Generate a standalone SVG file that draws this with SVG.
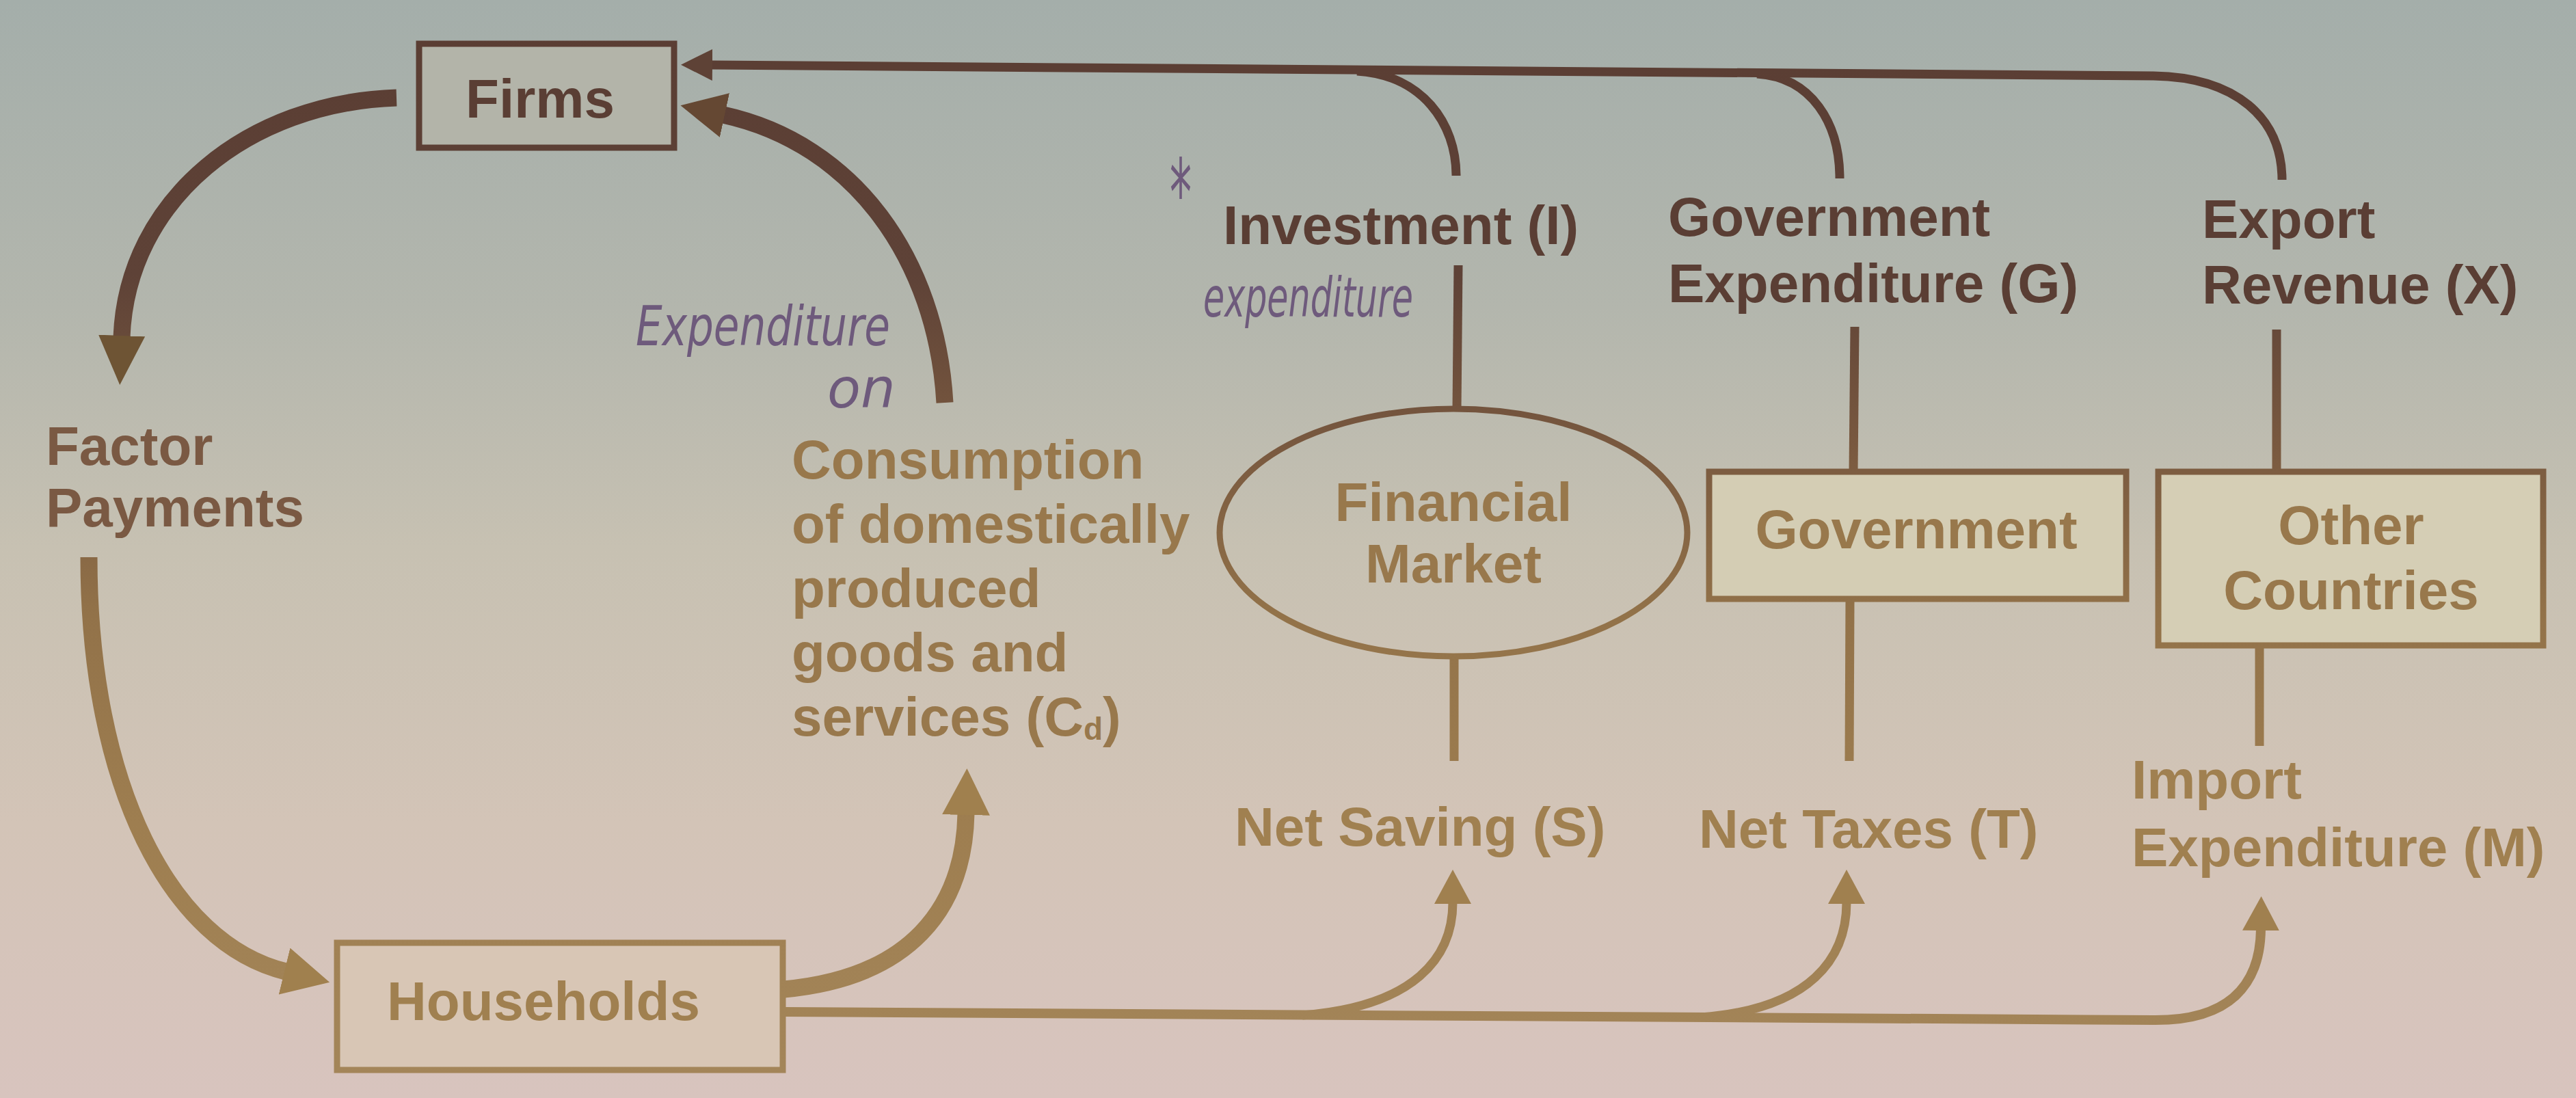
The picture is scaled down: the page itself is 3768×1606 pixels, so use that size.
<svg xmlns="http://www.w3.org/2000/svg" width="3768" height="1606" viewBox="0 0 3768 1606">
<defs>
<linearGradient id="bg" gradientUnits="userSpaceOnUse" x1="0" y1="0" x2="0" y2="1606">
<stop offset="0" stop-color="#a4aeaa"/>
<stop offset="0.28" stop-color="#b3b6ad"/>
<stop offset="0.5" stop-color="#c7c1b2"/>
<stop offset="0.75" stop-color="#d3c4b7"/>
<stop offset="1" stop-color="#d8c4be"/>
</linearGradient>
<linearGradient id="ink" gradientUnits="userSpaceOnUse" x1="0" y1="0" x2="0" y2="1606">
<stop offset="0" stop-color="#5a3d33"/>
<stop offset="0.25" stop-color="#5e4237"/>
<stop offset="0.4" stop-color="#78583f"/>
<stop offset="0.56" stop-color="#927249"/>
<stop offset="0.75" stop-color="#9e7e50"/>
<stop offset="1" stop-color="#a4865a"/>
</linearGradient>
<marker id="ahDarkS" markerUnits="userSpaceOnUse" viewBox="0 0 46 46" markerWidth="46" markerHeight="46" refX="2" refY="23" orient="auto">
<path d="M0,0 L46,23 L0,46 z" fill="#5e4236"/>
</marker>
<marker id="ahDarkB" markerUnits="userSpaceOnUse" viewBox="0 0 66 66" markerWidth="66" markerHeight="66" refX="2" refY="33" orient="auto">
<path d="M0,0 L66,33 L0,66 z" fill="#654833"/>
</marker>
<marker id="ahMidB" markerUnits="userSpaceOnUse" viewBox="0 0 72 68" markerWidth="72" markerHeight="68" refX="2" refY="34" orient="auto">
<path d="M0,0 L72,34 L0,68 z" fill="#6e5434"/>
</marker>
<marker id="ahGoldB" markerUnits="userSpaceOnUse" viewBox="0 0 68 70" markerWidth="68" markerHeight="70" refX="2" refY="35" orient="auto">
<path d="M0,0 L68,35 L0,70 z" fill="#a0804e"/>
</marker>
<marker id="ahGoldS" markerUnits="userSpaceOnUse" viewBox="0 0 50 54" markerWidth="50" markerHeight="54" refX="2" refY="27" orient="auto">
<path d="M0,0 L50,27 L0,54 z" fill="#a0804f"/>
</marker>
</defs>
<style>
text { font-family: "Liberation Sans", Arial, sans-serif; font-weight: bold; font-size: 80px; }
.dark { fill: #5a3e34; }
.mid { fill: #7a5943; }
.gold { fill: #98784c; }
.low { fill: #a08050; }
.hand { font-family: "DejaVu Sans", sans-serif; font-weight: normal; font-style: italic; fill: #6e5a7c; }
.box { stroke: url(#ink); stroke-width: 9; }
.thin { fill: none; stroke: url(#ink); stroke-width: 13; stroke-linecap: butt; }
.thick { fill: none; stroke: url(#ink); stroke-width: 25; stroke-linecap: butt; }
.mc { text-anchor: middle; }
</style>
<rect x="0" y="0" width="3768" height="1606" fill="url(#bg)"/>

<g id="connectors">
<!-- top return line from Other Countries (X) to Firms -->
<path class="thin" d="M3338,263 C3338,172 3270,113 3150,111 L1040,95" marker-end="url(#ahDarkS)"/>
<path class="thin" d="M1985,104 C2080,110 2130,180 2130,257"/>
<path class="thin" d="M2570,108 C2650,113 2691,180 2691,261"/>
<!-- vertical connectors -->
<path class="thin" d="M2133,388 L2131,598"/>
<path class="thin" d="M2127,958 L2127,1113"/>
<path class="thin" d="M2713,478 L2711,690"/>
<path class="thin" d="M2706,876 L2705,1113"/>
<path class="thin" d="M3330,482 L3330,690"/>
<path class="thin" d="M3305,945 L3305,1091"/>
<!-- Firms -> Factor Payments -->
<path class="thick" d="M580,143 C365,150 186,290 178,493" marker-end="url(#ahMidB)"/>
<!-- Factor Payments -> Households -->
<path class="thick" d="M130,815 C130,1150 250,1380 418,1421" marker-end="url(#ahGoldB)"/>
<!-- Households -> Consumption -->
<path class="thick" d="M1147,1447 C1330,1430 1410,1330 1413,1190" marker-end="url(#ahGoldB)"/>
<!-- Consumption -> Firms -->
<path class="thick" d="M1382,589 C1370,380 1250,210 1058,168" marker-end="url(#ahDarkB)"/>
<!-- Households leakages -->
<path class="thin" style="stroke-width:14" d="M1147,1480 L3150,1492 C3262,1493 3306,1440 3307,1359" marker-end="url(#ahGoldS)"/>
<path class="thin" d="M1905,1485 C2070,1472 2125,1400 2125,1320" marker-end="url(#ahGoldS)"/>
<path class="thin" d="M2488,1488 C2650,1476 2701,1400 2701,1320" marker-end="url(#ahGoldS)"/>
</g>

<g id="firms">
<rect class="box" x="613" y="64" width="373" height="152" fill="#b3b4a9"/>
<text class="dark mc" x="790" y="172">Firms</text>
</g>

<g id="households">
<rect class="box" x="493" y="1379" width="652" height="186" fill="#d8c6b5"/>
<text class="low mc" x="795" y="1492">Households</text>
</g>

<g id="financial-market">
<ellipse class="box" cx="2126" cy="779" rx="342" ry="181" fill="none"/>
<text class="gold mc" x="2126" y="762">Financial</text>
<text class="gold mc" x="2126" y="852">Market</text>
</g>

<g id="government">
<rect class="box" x="2500" y="690" width="610" height="186" fill="#d4cdb4"/>
<text class="gold mc" x="2803" y="802">Government</text>
</g>

<g id="other-countries">
<rect class="box" x="3157" y="690" width="563" height="254" fill="#d5ceb5"/>
<text class="gold mc" x="3439" y="796">Other</text>
<text class="gold mc" x="3439" y="891">Countries</text>
</g>

<g id="labels">
<text class="mid" x="67" y="680">Factor</text>
<text class="mid" x="67" y="770">Payments</text>
<text class="gold" x="1158" y="700">Consumption</text>
<text class="gold" x="1158" y="794">of domestically</text>
<text class="gold" x="1158" y="888">produced</text>
<text class="gold" x="1158" y="982">goods and</text>
<text class="gold" x="1158" y="1076">services (C<tspan font-size="46" dy="6">d</tspan><tspan dy="-6">)</tspan></text>
<text class="dark" x="1789" y="357">Investment (I)</text>
<text class="dark" x="2440" y="345">Government</text>
<text class="dark" x="2440" y="442">Expenditure (G)</text>
<text class="dark" x="3221" y="348">Export</text>
<text class="dark" x="3221" y="444">Revenue (X)</text>
<text class="low" x="1806" y="1237">Net Saving (S)</text>
<text class="low" x="2485" y="1240">Net Taxes (T)</text>
<text class="low" x="3118" y="1168">Import</text>
<text class="low" x="3118" y="1267">Expenditure (M)</text>
</g>

<g id="annotations">
<text class="hand" x="930" y="505" font-size="58" textLength="372" lengthAdjust="spacingAndGlyphs">Expenditure</text>
<text class="hand" x="1210" y="596" font-size="46">on</text>
<text class="hand" x="1760" y="463" font-size="56" textLength="307" lengthAdjust="spacingAndGlyphs">expenditure</text>
<text class="hand" transform="translate(1727,330) scale(0.8,1.7)" text-anchor="middle" font-size="130">*</text>
</g>
</svg>
